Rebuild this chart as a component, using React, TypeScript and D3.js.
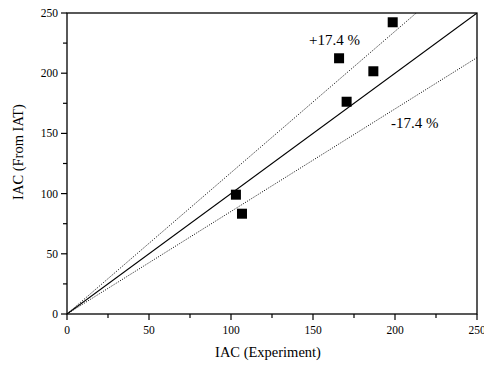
import React from "react";
import * as d3 from "d3";

// Measured vs. predicted IAC
const iacExperiment = [198.6, 165.9, 186.8, 170.5, 103.0, 106.7];
const iacFromIAT = [242.3, 212.4, 201.6, 176.3, 99.1, 83.3];
const majorTicks = [0, 50, 100, 150, 200, 250];
const minorTicks = [25, 75, 125, 175, 225];
const band = 0.174;

const W = 484;
const H = 366;
const M = { left: 67, right: 7, top: 13, bottom: 52 };
const font = "'Liberation Serif', 'Times New Roman', serif";

export default function App() {
  const x = d3.scaleLinear().domain([0, 250]).range([M.left, W - M.right]);
  const y = d3.scaleLinear().domain([0, 250]).range([H - M.bottom, M.top]);
  const x0 = x.range()[0];
  const x1 = x.range()[1];
  const y0 = y.range()[0];
  const y1 = y.range()[1];

  const line = d3
    .line<[number, number]>()
    .x((d) => x(d[0]))
    .y((d) => y(d[1]));

  const ident: [number, number][] = [
    [0, 0],
    [250, 250],
  ];
  const upper: [number, number][] = [
    [0, 0],
    [250 / (1 + band), 250],
  ];
  const lower: [number, number][] = [
    [0, 0],
    [250, 250 / (1 + band)],
  ];

  const sq = 10;

  return (
    <svg
      width={W}
      height={H}
      style={{ position: "absolute", left: 0, top: 0, background: "#fff" }}
      fontFamily={font}
    >
      <defs>
        <clipPath id="plot">
          <rect x={x0} y={y1} width={x1 - x0} height={y0 - y1} />
        </clipPath>
      </defs>

      <g clipPath="url(#plot)" fill="none">
        <path d={line(ident) ?? ""} stroke="#000" strokeWidth={1.1} />
        <path d={line(upper) ?? ""} stroke="#000" strokeWidth={1} strokeDasharray="1,1.5" />
        <path d={line(lower) ?? ""} stroke="#000" strokeWidth={1} strokeDasharray="1,1.5" />
      </g>

      {iacExperiment.map((v, i) => (
        <rect
          key={i}
          x={x(v) - sq / 2}
          y={y(iacFromIAT[i]) - sq / 2}
          width={sq}
          height={sq}
          fill="#000"
        />
      ))}

      {/* frame */}
      <rect
        x={x0}
        y={y1}
        width={x1 - x0}
        height={y0 - y1}
        fill="none"
        stroke="#000"
        strokeWidth={1.3}
      />

      {/* x axis ticks */}
      {majorTicks.map((t) => (
        <g key={"xm" + t}>
          <line x1={x(t)} x2={x(t)} y1={y0} y2={y0 + 6} stroke="#000" strokeWidth={1.2} />
          <text x={x(t)} y={y0 + 20} textAnchor="middle" fontSize={11.5} fill="#000">
            {t}
          </text>
        </g>
      ))}
      {minorTicks.map((t) => (
        <line key={"xn" + t} x1={x(t)} x2={x(t)} y1={y0} y2={y0 + 4} stroke="#000" strokeWidth={1.2} />
      ))}

      {/* y axis ticks */}
      {majorTicks.map((t) => (
        <g key={"ym" + t}>
          <line x1={x0 - 6} x2={x0} y1={y(t)} y2={y(t)} stroke="#000" strokeWidth={1.2} />
          <text x={x0 - 9} y={y(t) + 4} textAnchor="end" fontSize={11.5} fill="#000">
            {t}
          </text>
        </g>
      ))}
      {minorTicks.map((t) => (
        <line key={"yn" + t} x1={x0 - 4} x2={x0} y1={y(t)} y2={y(t)} stroke="#000" strokeWidth={1.2} />
      ))}

      {/* axis titles */}
      <text x={268} y={357} textAnchor="middle" fontSize={14.5} fill="#000">
        IAC (Experiment)
      </text>
      <text
        transform={`translate(23,152) rotate(-90)`}
        textAnchor="middle"
        fontSize={14.5}
        fill="#000"
      >
        IAC (From IAT)
      </text>

      {/* band labels */}
      <text x={309} y={45} fontSize={15} fill="#000">
        +17.4 %
      </text>
      <text x={391} y={128} fontSize={15} fill="#000">
        -17.4 %
      </text>
    </svg>
  );
}
